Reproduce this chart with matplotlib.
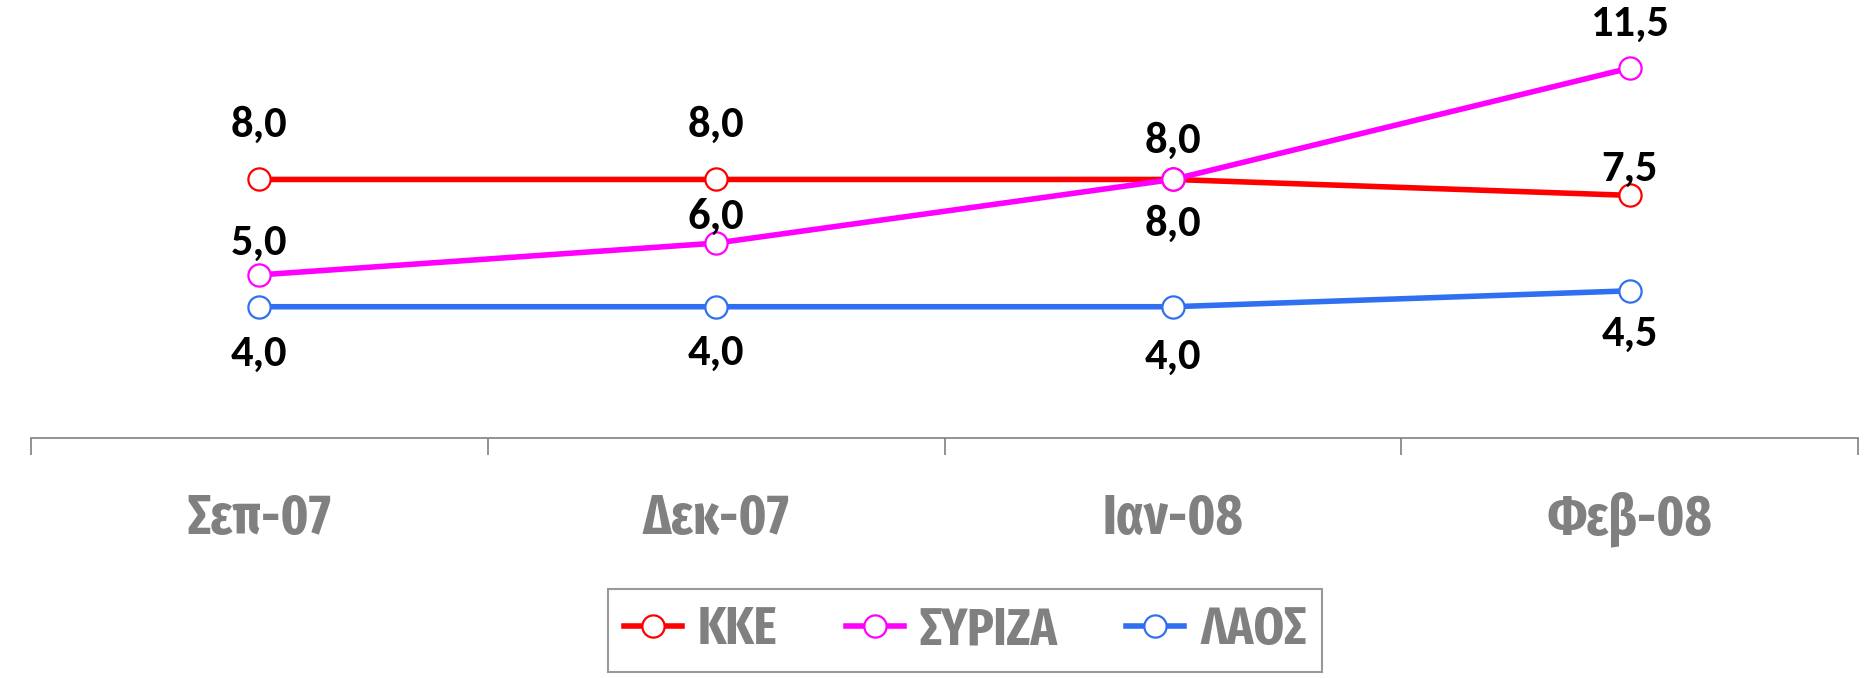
import matplotlib
matplotlib.use("Agg")
import matplotlib.pyplot as plt
from matplotlib.ticker import FixedLocator

# data
months = ["Σεπ-07", "Δεκ-07", "Ιαν-08", "Φεβ-08"]
kke = [8.0, 8.0, 8.0, 7.5]
syriza = [5.0, 6.0, 8.0, 11.5]
laos = [4.0, 4.0, 4.0, 4.5]

series = [
    ("ΚΚΕ", kke, "#FF0000"),
    ("ΣΥΡΙΖΑ", syriza, "#FF00FF"),
    ("ΛΑΟΣ", laos, "#3070F0"),
]

# label offsets in points (positive = above the point)
label_offsets = {
    "ΚΚΕ": [39, 39, -32, 19],
    "ΣΥΡΙΖΑ": [23, 19, 28, 32],
    "ΛΑΟΣ": [-34, -33, -36, -31],
}

cond = ["Fira Sans Extra Condensed", "Roboto Condensed", "DejaVu Sans"]
calib = ["Carlito", "DejaVu Sans"]
gray = "#808080"

fig = plt.figure(figsize=(18.64, 6.78), dpi=100)
ax = fig.add_axes([31 / 1864, 240.5 / 678, 1827 / 1864, 437.5 / 678])

x = list(range(len(months)))
handles = []
for name, vals, col in series:
    h, = ax.plot(x, vals, color=col, lw=4.0, marker="o", ms=16,
                 mfc="white", mec=col, mew=1.6, label=name, zorder=3)
    handles.append(h)
    for xi, v, dy in zip(x, vals, label_offsets[name]):
        ax.annotate(f"{v:.1f}".replace(".", ","), (xi, v), xytext=(0, dy),
                    textcoords="offset points", ha="center", va="center",
                    fontsize=32, fontweight="bold", family=calib, color="black")

ax.set_xlim(-0.5, len(months) - 0.5)
ax.set_ylim(-0.11, 13.64)
ax.set_xticks(x)
ax.set_xticklabels(months)
ax.xaxis.set_minor_locator(FixedLocator([i - 0.5 for i in range(len(months) + 1)]))
ax.tick_params(axis="x", which="major", length=0, pad=39, labelsize=40,
               labelcolor=gray)
ax.tick_params(axis="x", which="minor", length=12.5, width=1.2, color=gray)
for lab in ax.get_xticklabels():
    lab.set_fontweight("bold")
    lab.set_family(cond)
ax.set_yticks([])
for s in ["top", "right", "left"]:
    ax.spines[s].set_visible(False)
ax.spines["bottom"].set_color(gray)
ax.spines["bottom"].set_linewidth(1.2)

leg = fig.legend(handles=handles, loc="center", bbox_to_anchor=(0.5177, 0.0700),
                 ncol=3, frameon=True, fancybox=False, handlelength=1.1,
                 columnspacing=1.3, handletextpad=0.3, borderpad=0.3,
                 prop={"family": cond, "weight": "bold", "size": 38})
leg.get_frame().set_edgecolor(gray)
leg.get_frame().set_linewidth(1.5)
for t in leg.get_texts():
    t.set_color(gray)

fig.savefig("out.png", dpi=100)
